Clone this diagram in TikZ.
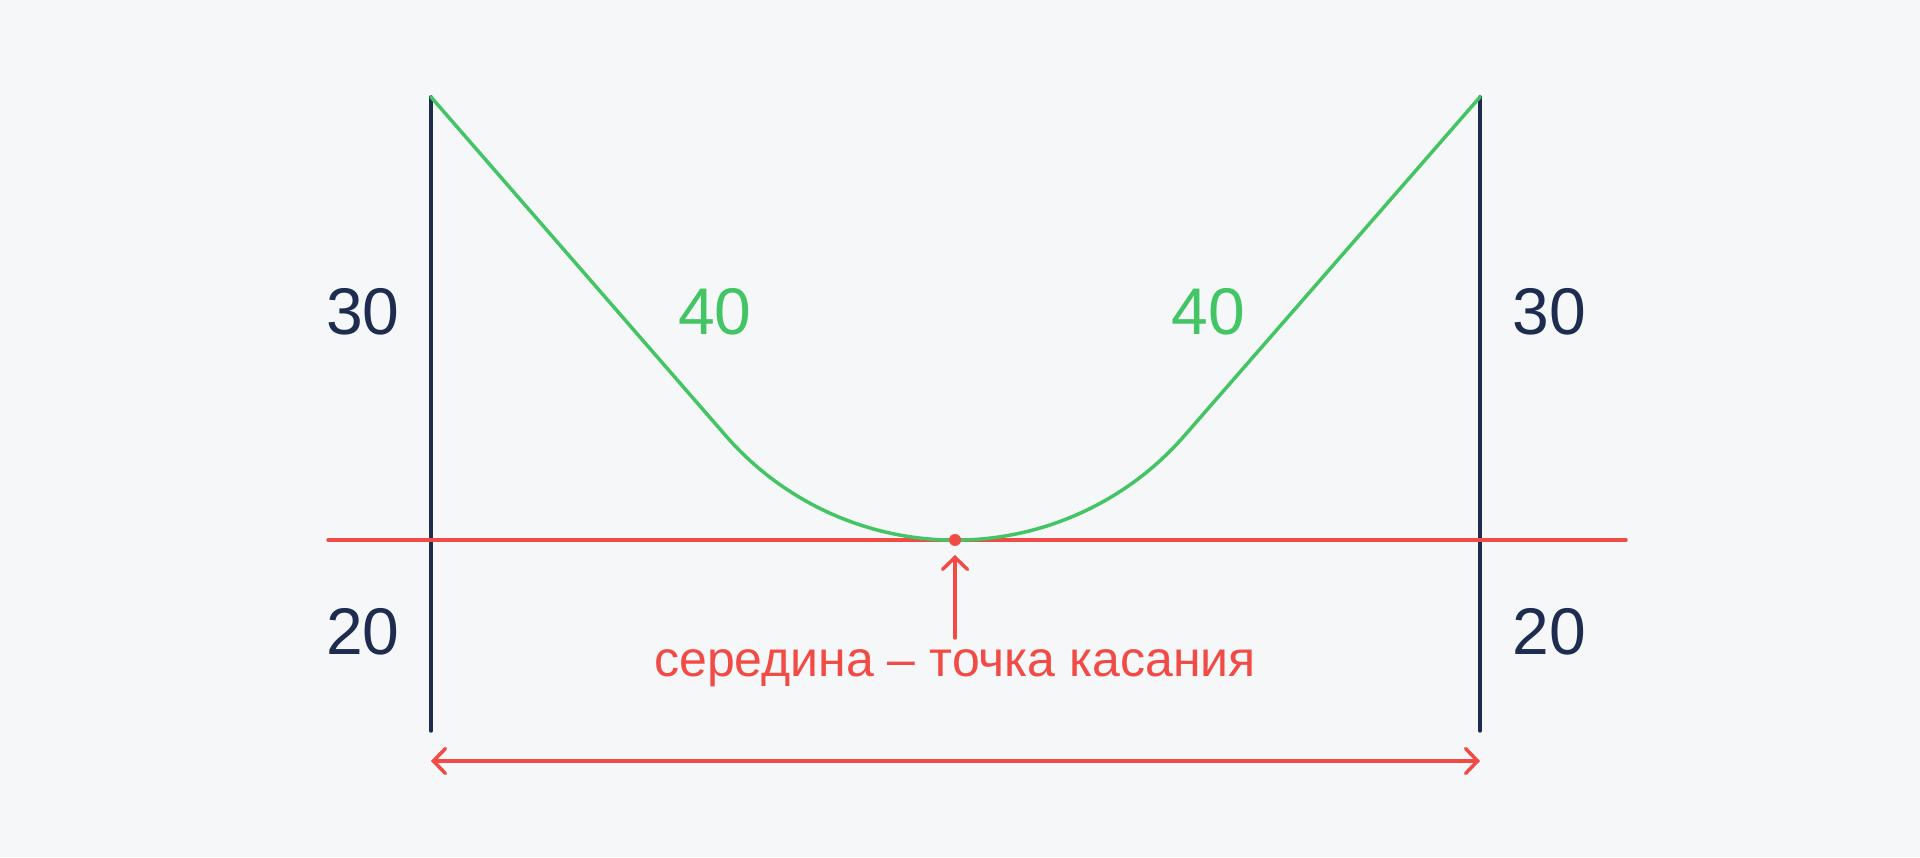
\documentclass[tikz,border=0pt]{standalone}
\usepackage{fontspec}
\setmainfont{Liberation Sans}
\usetikzlibrary{arrows.meta}
\definecolor{bg}{HTML}{F5F7F9}
\definecolor{navy}{HTML}{1E2D4F}
\definecolor{grn}{HTML}{44C565}
\definecolor{rd}{HTML}{F24A45}
\begin{document}
\begin{tikzpicture}[x=1pt,y=1pt,
  navyline/.style={draw=navy,line width=3.5pt,line cap=round},
  grnline/.style={draw=grn,line width=3.5pt,line cap=round,line join=round},
  rdline/.style={draw=rd,line width=3.5pt,line cap=round},
  chev/.style={-{Straight Barb[length=12pt,width=25pt,line cap=round]}},
  numlbl/.style={text=navy,font=\fontsize{66}{66}\selectfont,inner sep=0pt},
  grnlbl/.style={text=grn,font=\fontsize{66}{66}\selectfont,inner sep=0pt},
  caplbl/.style={text=rd,font=\fontsize{50}{50}\selectfont,inner sep=0pt,anchor=base}]
\fill[bg] (0,0) rectangle (1920,857);
\useasboundingbox (0,0) rectangle (1920,857);
% coordinates
\coordinate (LT) at (431,760);
\coordinate (LB) at (431,126);
\coordinate (RT) at (1480,760);
\coordinate (RB) at (1480,126);
\coordinate (HL) at (328,317);
\coordinate (HR) at (1626,317);
\coordinate (TP) at (726,421);
\coordinate (AS) at (955,219);
\coordinate (AE) at (955,302);
\coordinate (BL) at (431,96);
\coordinate (BR) at (1480,96);
% verticals
\draw[navyline] (LB) -- (LT);
\draw[navyline] (RB) -- (RT);
% tangent line
\draw[rdline] (HL) -- (HR);
% green curve
\draw[grnline] (LT) -- (TP) arc[start angle=221.1,end angle=318.9,radius=304] -- (RT);
% dot
\node[circle,fill=rd,inner sep=0pt,minimum size=12pt] (dot) at (955,317) {};
% arrows
\draw[rdline,chev] (AS) -- (AE);
\draw[rdline,{Straight Barb[length=12pt,width=25pt,line cap=round]}-{Straight Barb[length=12pt,width=25pt,line cap=round]}] (BL) -- (BR);
% labels
\node[numlbl] (l30) at (363,545) {30};
\node[numlbl] (r30) at (1549,545) {30};
\node[numlbl] (l20) at (363,225) {20};
\node[numlbl] (r20) at (1549,225) {20};
\node[grnlbl] (g40l) at (715,545) {40};
\node[grnlbl] (g40r) at (1208,545) {40};
\node[caplbl] (cap) at (955,180) {середина – точка касания};
\end{tikzpicture}
\end{document}
